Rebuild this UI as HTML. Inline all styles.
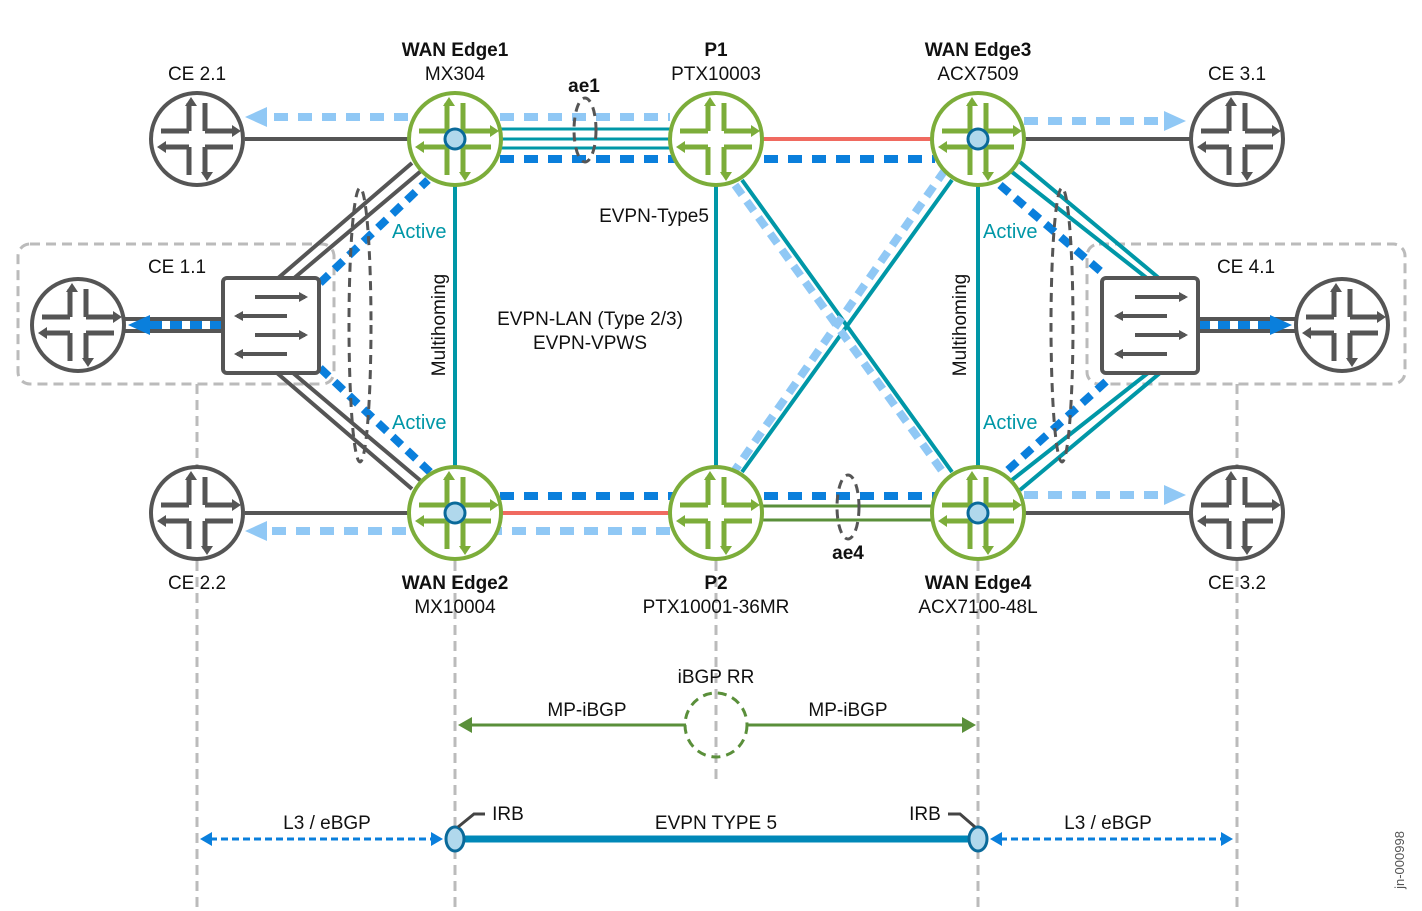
<!DOCTYPE html>
<html><head><meta charset="utf-8"><style>
html,body{margin:0;padding:0;background:#fff;}
svg{display:block;font-family:"Liberation Sans",sans-serif;}
</style></head><body>
<svg width="1422" height="911" viewBox="0 0 1422 911" xmlns="http://www.w3.org/2000/svg">
<defs>
<g id="ic">
<path d="M-8,-36 V-8 M8,-36 V-8 M-8,8 V36 M8,8 V36 M-36,-8 H-8 M8,-8 H36 M-36,8 H-8 M8,8 H36" stroke-width="5" fill="none"/>
</g>
<g id="ah">
<path d="M-8,-42 l-6,9 h12z M8,42 l-6,-9 h12z M42,-8 l-9,-6 v12z M-42,8 l9,-6 v12z"/>
</g>
</defs>

<rect x="18" y="244" width="316" height="140" rx="12" fill="none" stroke="#bbb" stroke-width="3" stroke-dasharray="10 6"/>
<rect x="1087" y="244" width="318" height="140" rx="12" fill="none" stroke="#bbb" stroke-width="3" stroke-dasharray="10 6"/>
<g stroke="#bbb" stroke-width="3" stroke-dasharray="10 6">
<path d="M197,384 V465 M197,561 V911 M455,561 V911 M716,561 V780 M978,561 V911 M1237,384 V465 M1237,561 V911"/>
</g>

<g stroke="#0097a7" stroke-width="4">
<path d="M455,186 V466 M716,186 V466 M978,186 V466 M742,180 L952,472 M952,180 L742,472"/>
</g>
<g stroke="#90c8f5" stroke-width="8" stroke-dasharray="12 8">
<path d="M735,185 L945,475 M945,170 L735,470"/>
</g>

<line x1="245" y1="139" x2="408" y2="139" stroke="#555" stroke-width="4"/>
<line x1="408" y1="117" x2="262" y2="117" stroke="#90c8f5" stroke-width="8" stroke-dasharray="14 10"/>
<path d="M245,117 L267,107 L267,127 z" fill="#90c8f5"/>
<line x1="500" y1="117" x2="670" y2="117" stroke="#90c8f5" stroke-width="8" stroke-dasharray="14 10"/>
<g stroke="#0097a7" stroke-width="3"><path d="M500,129 H670 M500,139 H670 M500,148 H670"/></g>
<line x1="500" y1="159" x2="935" y2="159" stroke="#0a7fdc" stroke-width="8" stroke-dasharray="14 10"/>
<line x1="762" y1="139" x2="932" y2="139" stroke="#f06a60" stroke-width="4"/>
<ellipse cx="585" cy="130" rx="11" ry="32" fill="none" stroke="#555" stroke-width="3" stroke-dasharray="9 6"/>
<line x1="1024" y1="121" x2="1168" y2="121" stroke="#90c8f5" stroke-width="8" stroke-dasharray="14 10"/>
<path d="M1186,121 L1164,111 L1164,131 z" fill="#90c8f5"/>
<line x1="1024" y1="139" x2="1190" y2="139" stroke="#555" stroke-width="4"/>

<line x1="245" y1="513" x2="408" y2="513" stroke="#555" stroke-width="4"/>
<line x1="670" y1="531" x2="262" y2="531" stroke="#90c8f5" stroke-width="8" stroke-dasharray="14 10"/>
<path d="M245,531 L267,521 L267,541 z" fill="#90c8f5"/>
<line x1="500" y1="496" x2="935" y2="496" stroke="#0a7fdc" stroke-width="8" stroke-dasharray="14 10"/>
<line x1="500" y1="513" x2="670" y2="513" stroke="#f06a60" stroke-width="4"/>
<g stroke="#5a8f3a" stroke-width="3"><path d="M762,506 H932 M762,520 H932"/></g>
<ellipse cx="848" cy="507" rx="11" ry="32" fill="none" stroke="#555" stroke-width="3" stroke-dasharray="9 6"/>
<line x1="1024" y1="495" x2="1168" y2="495" stroke="#90c8f5" stroke-width="8" stroke-dasharray="14 10"/>
<path d="M1186,495 L1164,485 L1164,505 z" fill="#90c8f5"/>
<line x1="1024" y1="513" x2="1190" y2="513" stroke="#555" stroke-width="4"/>

<g stroke="#555" stroke-width="4">
<path d="M277,279 L412,163 M293,279 L421,171 M277,373 L412,489 M293,373 L421,481"/>
<path d="M125,319 H222 M125,331 H222"/>
</g>
<g stroke="#0a7fdc" stroke-width="8" stroke-dasharray="12 8">
<path d="M320,283 L428,180 M320,368 L430,472 M222,325 H148"/>
</g>
<path d="M128,325 L150,315 L150,335 z" fill="#0a7fdc"/>
<ellipse cx="360" cy="325" rx="11" ry="137" fill="none" stroke="#555" stroke-width="3" stroke-dasharray="9 6"/>

<g stroke="#0097a7" stroke-width="4">
<path d="M1012,172 L1148,279 M1020,162 L1160,279 M1012,480 L1148,373 M1020,490 L1160,373"/>
</g>
<g stroke="#0a7fdc" stroke-width="8" stroke-dasharray="12 8">
<path d="M1000,185 L1105,275 M1008,470 L1110,378 M1198,325 H1272"/>
</g>
<g stroke="#555" stroke-width="4"><path d="M1198,319 H1296 M1198,331 H1296"/></g>
<path d="M1292,325 L1270,315 L1270,335 z" fill="#0a7fdc"/>
<ellipse cx="1062" cy="325" rx="11" ry="137" fill="none" stroke="#555" stroke-width="3" stroke-dasharray="9 6"/>

<g fill="#fff" stroke="#555" stroke-width="4">
<rect x="223" y="278" width="96" height="95" rx="4"/>
<rect x="1102" y="278" width="96" height="95" rx="4"/>
</g>
<g stroke="#555" stroke-width="4" fill="none">
<path d="M255,297 H305 M237,316 H287 M255,335 H305 M237,354 H287"/>
<path d="M1135,297 H1185 M1117,316 H1167 M1135,335 H1185 M1117,354 H1167"/>
</g>
<g fill="#555">
<path d="M308,297 l-9,-5 v10z M234,316 l9,-5 v10z M308,335 l-9,-5 v10z M234,354 l9,-5 v10z"/>
<path d="M1188,297 l-9,-5 v10z M1114,316 l9,-5 v10z M1188,335 l-9,-5 v10z M1114,354 l9,-5 v10z"/>
</g>

<g fill="#fff" stroke="#7cad3a" stroke-width="4">
<circle cx="455" cy="139" r="46"/><circle cx="716" cy="139" r="46"/><circle cx="978" cy="139" r="46"/>
<circle cx="455" cy="513" r="46"/><circle cx="716" cy="513" r="46"/><circle cx="978" cy="513" r="46"/>
</g>
<g fill="#fff" stroke="#555" stroke-width="4">
<circle cx="197" cy="139" r="46"/><circle cx="1237" cy="139" r="46"/>
<circle cx="197" cy="513" r="46"/><circle cx="1237" cy="513" r="46"/>
<circle cx="78" cy="325" r="46"/><circle cx="1342" cy="325" r="46"/>
</g>
<g stroke="#7cad3a" fill="#7cad3a">
<use href="#ic" x="455" y="139"/><use href="#ic" x="716" y="139"/><use href="#ic" x="978" y="139"/>
<use href="#ic" x="455" y="513"/><use href="#ic" x="716" y="513"/><use href="#ic" x="978" y="513"/>
</g>
<g stroke="#555">
<use href="#ic" x="197" y="139"/><use href="#ic" x="1237" y="139"/>
<use href="#ic" x="197" y="513"/><use href="#ic" x="1237" y="513"/>
<use href="#ic" x="78" y="325"/><use href="#ic" x="1342" y="325"/>
</g>
<g fill="#7cad3a">
<use href="#ah" x="457" y="139"/><use href="#ah" x="718" y="139"/><use href="#ah" x="980" y="139"/>
<use href="#ah" x="457" y="513"/><use href="#ah" x="718" y="513"/><use href="#ah" x="980" y="513"/>
</g>
<g fill="#555">
<use href="#ah" x="199" y="139"/><use href="#ah" x="1239" y="139"/>
<use href="#ah" x="199" y="513"/><use href="#ah" x="1239" y="513"/>
<use href="#ah" x="80" y="325"/><use href="#ah" x="1344" y="325"/>
</g>
<g fill="#b0d8ec" stroke="#0a6a9a" stroke-width="3">
<circle cx="455" cy="139" r="10"/><circle cx="978" cy="139" r="10"/>
<circle cx="455" cy="513" r="10"/><circle cx="978" cy="513" r="10"/>
</g>

<g font-size="19" fill="#111" text-anchor="middle">
<text x="455" y="56" font-weight="bold">WAN Edge1</text><text x="455" y="80">MX304</text>
<text x="716" y="56" font-weight="bold">P1</text><text x="716" y="80">PTX10003</text>
<text x="978" y="56" font-weight="bold">WAN Edge3</text><text x="978" y="80">ACX7509</text>
<text x="197" y="80">CE 2.1</text><text x="1237" y="80">CE 3.1</text>
<text x="584" y="92" font-weight="bold">ae1</text>
<text x="177" y="273">CE 1.1</text><text x="1246" y="273">CE 4.1</text>
<text x="654" y="222">EVPN-Type5</text>
<text x="590" y="325">EVPN-LAN (Type 2/3)</text>
<text x="590" y="349">EVPN-VPWS</text>
<text x="197" y="589">CE 2.2</text><text x="1237" y="589">CE 3.2</text>
<text x="455" y="589" font-weight="bold">WAN Edge2</text><text x="455" y="613">MX10004</text>
<text x="716" y="589" font-weight="bold">P2</text><text x="716" y="613">PTX10001-36MR</text>
<text x="978" y="589" font-weight="bold">WAN Edge4</text><text x="978" y="613">ACX7100-48L</text>
<text x="848" y="559" font-weight="bold">ae4</text>
<text x="716" y="683">iBGP RR</text>
<text x="587" y="716">MP-iBGP</text><text x="848" y="716">MP-iBGP</text>
<text x="327" y="829">L3 / eBGP</text><text x="1108" y="829">L3 / eBGP</text>
<text x="716" y="829">EVPN TYPE 5</text>
<text x="508" y="820">IRB</text><text x="925" y="820">IRB</text>
</g>
<g font-size="20" fill="#0097a7">
<text x="392" y="238">Active</text><text x="392" y="429">Active</text>
<text x="983" y="238">Active</text><text x="983" y="429">Active</text>
</g>
<g font-size="19" fill="#111" text-anchor="middle">
<text transform="translate(445,325) rotate(-90)">Multihoming</text>
<text transform="translate(966,325) rotate(-90)">Multihoming</text>
</g>
<text transform="translate(1404,860) rotate(-90)" font-size="13" fill="#555" text-anchor="middle">jn-000998</text>

<g stroke="#5a8f3a" stroke-width="3">
<path d="M470,725 H686 M748,725 H962"/>
</g>
<path d="M458,725 l14,-8 v16z M976,725 l-14,-8 v16z" fill="#5a8f3a"/>
<ellipse cx="716" cy="725" rx="31" ry="32" fill="none" stroke="#5a8f3a" stroke-width="3" stroke-dasharray="9 6"/>
<g stroke="#0a7fdc" stroke-width="3" stroke-dasharray="7 4">
<path d="M210,839 H433 M1000,839 H1222"/>
</g>
<path d="M200,839 l12,-7 v14z M443,839 l-12,-7 v14z M990,839 l12,-7 v14z M1233,839 l-12,-7 v14z" fill="#0a7fdc"/>
<line x1="455" y1="839" x2="978" y2="839" stroke="#0088b8" stroke-width="7"/>
<g fill="#b0d8ec" stroke="#0a6a9a" stroke-width="3">
<ellipse cx="455" cy="839" rx="9" ry="12"/><ellipse cx="978" cy="839" rx="9" ry="12"/>
</g>
<g stroke="#444" stroke-width="3" fill="none">
<path d="M458,827 L474,814 H485 M975,827 L960,814 H948"/>
</g>
</svg>
</body></html>
